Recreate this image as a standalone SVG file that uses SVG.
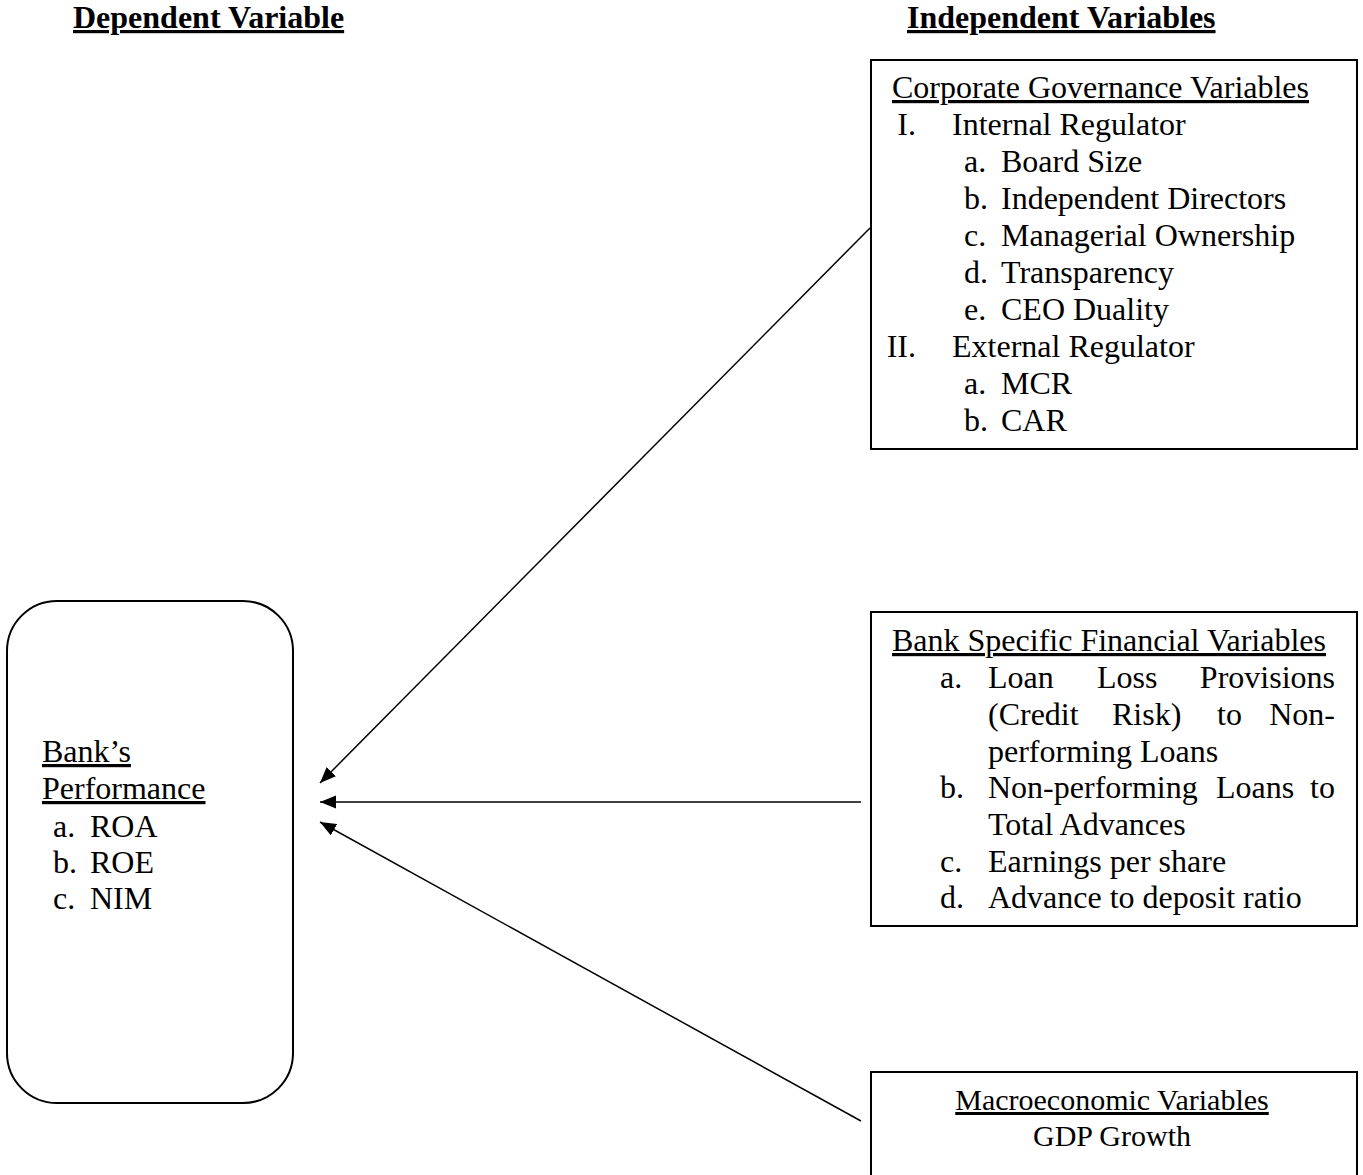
<svg xmlns="http://www.w3.org/2000/svg" width="1363" height="1175" viewBox="0 0 1363 1175">
<defs>
<style>
text{font-family:"Liberation Serif","Times New Roman",serif;font-size:32px;fill:#000}
.hd{font-weight:bold;text-decoration:underline}
.u{text-decoration:underline}
.box{fill:none;stroke:#000;stroke-width:2}
.con{stroke:#000;stroke-width:1.5;fill:none;marker-end:url(#ah)}
.e{text-anchor:end}
.m{text-anchor:middle;font-size:30px}
</style>
<marker id="ah" markerUnits="userSpaceOnUse" markerWidth="18" markerHeight="14" refX="16" refY="6.5" orient="auto">
<path d="M0,0 L16,6.5 L0,13 z" fill="#000"/>
</marker>
</defs>
<rect width="1363" height="1175" fill="#fff"/>
<g id="headers">
<text class="hd" x="73" y="28">Dependent Variable</text>
<text class="hd" x="907" y="28">Independent Variables</text>
</g>
<g id="connectors">
<line class="con" x1="870" y1="228" x2="320" y2="783"/>
<line class="con" x1="861" y1="802" x2="320" y2="802"/>
<line class="con" x1="861" y1="1121" x2="320" y2="822"/>
</g>
<g id="performance">
<rect class="box" x="7" y="601" width="286" height="502" rx="50" ry="50"/>
<text class="u" x="42" y="762">Bank’s</text>
<text class="u" x="42" y="799">Performance</text>
<text x="53" y="837">a.</text><text x="90" y="837">ROA</text>
<text x="53" y="873">b.</text><text x="90" y="873">ROE</text>
<text x="53" y="909">c.</text><text x="90" y="909">NIM</text>
</g>
<g id="governance">
<rect class="box" x="871" y="60" width="486" height="389"/>
<text class="u" x="892" y="98">Corporate Governance Variables</text>
<text class="e" x="916" y="135">I.</text><text x="952" y="135">Internal Regulator</text>
<text x="964" y="172">a.</text><text x="1001" y="172">Board Size</text>
<text x="964" y="209">b.</text><text x="1001" y="209">Independent Directors</text>
<text x="964" y="246">c.</text><text x="1001" y="246">Managerial Ownership</text>
<text x="964" y="283">d.</text><text x="1001" y="283">Transparency</text>
<text x="964" y="320">e.</text><text x="1001" y="320">CEO Duality</text>
<text class="e" x="916" y="357">II.</text><text x="952" y="357">External Regulator</text>
<text x="964" y="394">a.</text><text x="1001" y="394">MCR</text>
<text x="964" y="431">b.</text><text x="1001" y="431">CAR</text>
</g>
<g id="bank-specific">
<rect class="box" x="871" y="612" width="486" height="314"/>
<text class="u" x="892" y="651">Bank Specific Financial Variables</text>
<text x="940" y="688">a.</text><text x="988" y="688">Loan</text><text x="1097" y="688">Loss</text><text class="e" x="1335" y="688">Provisions</text>
<text x="988" y="725">(Credit</text><text x="1112" y="725">Risk)</text><text x="1217" y="725">to</text><text class="e" x="1335" y="725">Non-</text>
<text x="988" y="762">performing Loans</text>
<text x="940" y="798">b.</text><text x="988" y="798">Non-performing</text><text x="1216" y="798">Loans</text><text class="e" x="1335" y="798">to</text>
<text x="988" y="835">Total Advances</text>
<text x="940" y="872">c.</text><text x="988" y="872">Earnings per share</text>
<text x="940" y="908">d.</text><text x="988" y="908">Advance to deposit ratio</text>
</g>
<g id="macro">
<rect class="box" x="871" y="1072" width="486" height="130"/>
<text class="m u" x="1112" y="1110">Macroeconomic Variables</text>
<text class="m" x="1112" y="1146">GDP Growth</text>
</g>
</svg>
